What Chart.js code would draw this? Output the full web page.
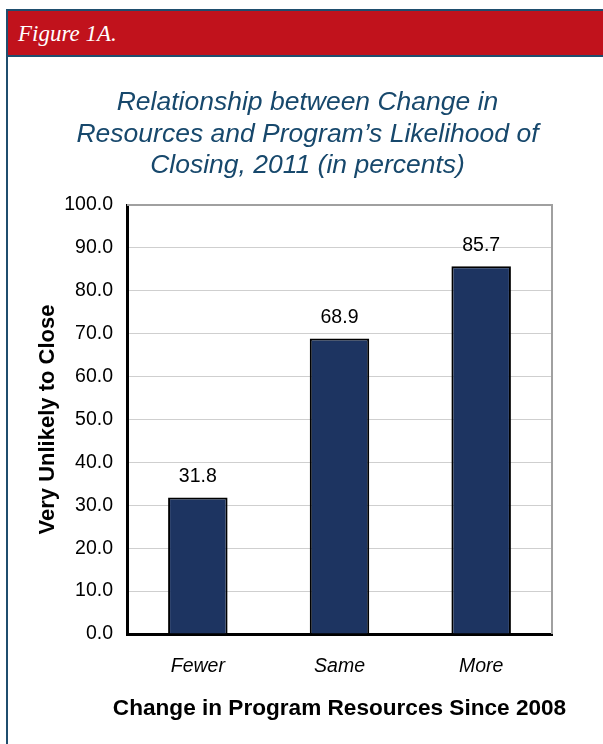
<!DOCTYPE html>
<html>
<head>
<meta charset="utf-8">
<script src="https://cdn.jsdelivr.net/npm/chart.js@4/dist/chart.umd.min.js"></script>
<style>
  html, body { margin: 0; padding: 0; background: #fff; }
  body { width: 603px; height: 744px; position: relative; overflow: hidden; font-family: Arial, "Liberation Sans", sans-serif; }
  #frame { position: absolute; left: 6px; top: 9px; width: 620px; height: 760px; border-left: 2px solid #1f4e6e; border-top: 2px solid #1f4e6e; box-sizing: border-box; }
  #header { position: absolute; left: 8px; top: 11px; width: 620px; height: 44px; background: #c1121c; border-bottom: 2px solid #1f4e6e; }
  #header span { position: absolute; left: 10px; top: 10px; color: #fff; font-family: "Liberation Serif", "DejaVu Serif", serif; font-style: italic; font-size: 23px; }
  #wrap { position: absolute; left: 0; top: 0; width: 603px; height: 744px; }
</style>
</head>
<body>
<div id="frame"></div>
<div id="header"><span>Figure 1A.</span></div>
<div id="wrap"><canvas id="c" width="603" height="744"></canvas></div>
<script>
const categories = ["Fewer", "Same", "More"];
const values = [31.8, 68.9, 85.7];
const yTicks = [0, 10, 20, 30, 40, 50, 60, 70, 80, 90, 100];
const titleLines = ["Relationship between Change in", "Resources and Program\u2019s Likelihood of", "Closing, 2011 (in percents)"];
const yTitle = "Very Unlikely to Close";
const xTitle = "Change in Program Resources Since 2008";

const FONT = "Arial, 'Liberation Sans', sans-serif";

const labelsPlugin = {
  id: 'barLabels',
  afterDatasetsDraw(chart) {
    const ctx = chart.ctx;
    const meta = chart.getDatasetMeta(0);
    ctx.save();
    ctx.font = "19.5px " + FONT;
    ctx.fillStyle = "#000";
    ctx.textAlign = "center";
    ctx.textBaseline = "middle";
    meta.data.forEach((bar, i) => {
      ctx.fillText(values[i].toFixed(1), bar.x, bar.y - 21);
    });
    ctx.restore();
  }
};

const textPlugin = {
  id: 'freeText',
  afterDraw(chart) {
    const ctx = chart.ctx;
    const a = chart.chartArea;
    ctx.save();
    ctx.textAlign = "center";
    ctx.textBaseline = "middle";
    ctx.font = "italic 26.5px " + FONT;
    ctx.fillStyle = "#17486c";
    const cx = chart.width / 2 + 6;
    titleLines.forEach((t, i) => ctx.fillText(t, cx, 103 + i * 31.5));
    ctx.font = "bold 22.6px " + FONT;
    ctx.fillStyle = "#000";
    ctx.fillText(xTitle, (a.left + a.right) / 2, a.bottom + 75);
    ctx.restore();
  }
};

const borderPlugin = {
  id: 'areaBorder',
  beforeDatasetsDraw(chart) {
    const {ctx, chartArea: a} = chart;
    ctx.save();
    ctx.strokeStyle = "#a0a0a0";
    ctx.lineWidth = 2;
    ctx.beginPath();
    ctx.moveTo(a.left, a.top);
    ctx.lineTo(a.right, a.top);
    ctx.lineTo(a.right, a.bottom);
    ctx.stroke();
    ctx.restore();
  }
};

new Chart(document.getElementById('c'), {
  type: 'bar',
  data: {
    labels: categories,
    datasets: [{
      data: values,
      backgroundColor: "#1d3461",
      borderColor: "#000",
      borderWidth: 2,
      categoryPercentage: 1,
      barPercentage: 0.42
    }]
  },
  options: {
    responsive: false,
    animation: false,
    devicePixelRatio: 1,
    layout: { padding: { top: 205, right: 51, bottom: 0, left: 0 } },
    plugins: {
      legend: { display: false },
      tooltip: { enabled: false },
      title: { display: false }
    },
    scales: {
      x: {
        afterFit(scale) { scale.height = 110; },
        grid: { display: false, drawTicks: false },
        border: { color: "#000", width: 3 },
        ticks: { color: "#000", padding: 21, font: { family: FONT, size: 19.5, style: 'italic' } },
        title: { display: false }
      },
      y: {
        min: 0, max: 100,
        afterFit(scale) { scale.width = 127; },
        afterBuildTicks(scale) { scale.ticks = yTicks.map(v => ({ value: v })); },
        grid: { color: "#cfcfcf", lineWidth: 1, drawTicks: false },
        border: { color: "#000", width: 3 },
        ticks: {
          color: "#000", padding: 14,
          font: { family: FONT, size: 19.5 },
          callback: v => Number(v).toFixed(1)
        },
        title: {
          display: true, text: yTitle, color: "#000",
          font: { family: FONT, size: 22, weight: 'bold' },
          padding: { top: 35, bottom: 0 }
        }
      }
    }
  },
  plugins: [borderPlugin, labelsPlugin, textPlugin]
});
</script>
</body>
</html>
